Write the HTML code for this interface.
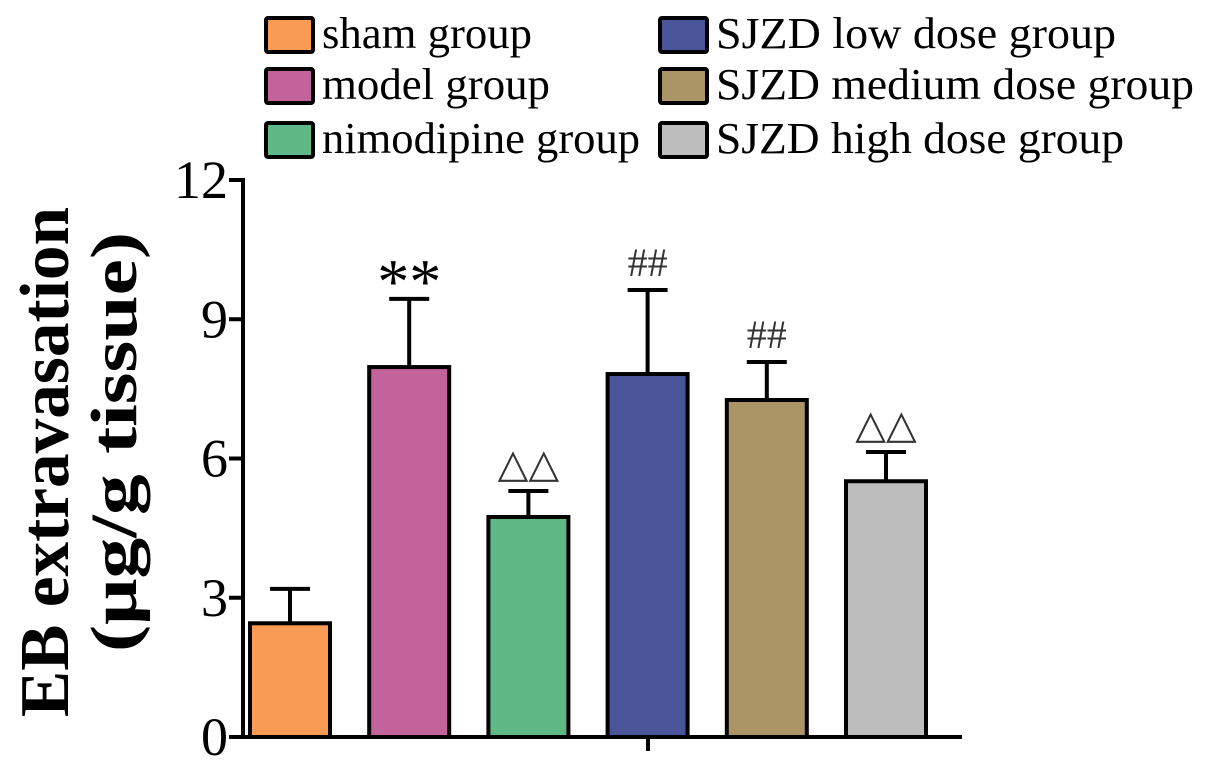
<!DOCTYPE html>
<html><head><meta charset="utf-8"><style>
body{margin:0;background:#fff;}
svg{display:block;font-family:"Liberation Serif",serif;}
</style></head><body>
<svg id="chart" width="1205" height="769" viewBox="0 0 1205 769">
<g id="legend"></g>
<g id="axes"></g>
<g id="bars"></g>
<text transform="translate(68,462) rotate(-90)" text-anchor="middle" font-size="70" font-weight="bold" textLength="510" lengthAdjust="spacingAndGlyphs">EB extravasation</text>
<text transform="translate(136,442) rotate(-90)" text-anchor="middle" font-size="66" font-weight="bold" textLength="420" lengthAdjust="spacingAndGlyphs">(μg/g tissue)</text>
</svg>
<script>
const categories=["sham group","model group","nimodipine group","SJZD low dose group","SJZD medium dose group","SJZD high dose group"];
const means=[2.45,7.97,4.74,7.82,7.26,5.51];
const errors=[0.74,1.47,0.56,1.81,0.82,0.63];
const marks=["","**","\u25B3\u25B3","##","##","\u25B3\u25B3"];
const yTicks=[0,3,6,9,12];
const colors=["#f99a55","#c2649b","#5fb987","#4a5499","#ab9465","#bdbdbd"];
const legendWidths=[210,228,318,400,478,408];
const NS="http://www.w3.org/2000/svg";
function mk(tag,attrs,parent,txt){const e=document.createElementNS(NS,tag);for(const k in attrs)e.setAttribute(k,attrs[k]);if(txt!==undefined)e.textContent=txt;parent.appendChild(e);return e;}
const y0=737,y12=180;
function yS(v){return y0-(y0-y12)*v/12;}
function xS(i){return 250+i*119.2;}
const bw=80;
const axes=document.getElementById('axes'),bars=document.getElementById('bars'),legend=document.getElementById('legend');
let ax=mk('line',{x1:243,y1:178,x2:243,y2:739,stroke:'#000','stroke-width':4},axes);


let xa=mk('line',{x1:241,y1:737,x2:962,y2:737,stroke:'#000','stroke-width':4},axes);


let xt=mk('line',{x1:648,y1:737,x2:648,y2:751,stroke:'#000','stroke-width':4},axes);


yTicks.forEach(t=>{
 const l=mk('line',{x1:229,y1:yS(t),x2:243,y2:yS(t),stroke:'#000','stroke-width':4},axes);
 
 
 const tx=mk('text',{x:228,y:yS(t)+18,'text-anchor':'end','font-size':54},axes,String(t));
 
 
});
means.forEach((m,i)=>{
 const x=xS(i),top=yS(m),et=yS(m+errors[i]),cx=x+bw/2;
 const eb=mk('path',{d:`M${cx},${top} V${et} M${cx-20},${et} H${cx+20}`,stroke:'#000','stroke-width':4,fill:'none'},bars);
 
 
 const r=mk('rect',{x:x,y:top,width:bw,height:y0-top,fill:colors[i],stroke:'#000','stroke-width':4},bars);
 
 
 if(marks[i]){
  const big=marks[i]==="**";
  const s=mk('text',{x:cx,y:et-(big?-4:14),'text-anchor':'middle','font-size':big?64:40,fill:big?'#000':'#333'},bars,marks[i]);
  
  
 }
});
categories.forEach((c,i)=>{
 const col=Math.floor(i/3),row=i%3;
 const bx=col?660:266,by=[18,69,123][row];
 const b=mk('rect',{x:bx,y:by,width:47,height:34,fill:colors[i],stroke:'#000','stroke-width':4,rx:2},legend);
 
 
 const t=mk('text',{x:bx+56,y:by+30,'font-size':44,textLength:legendWidths[i],lengthAdjust:'spacingAndGlyphs'},legend,c);
 
 
});
</script>
</body></html>
